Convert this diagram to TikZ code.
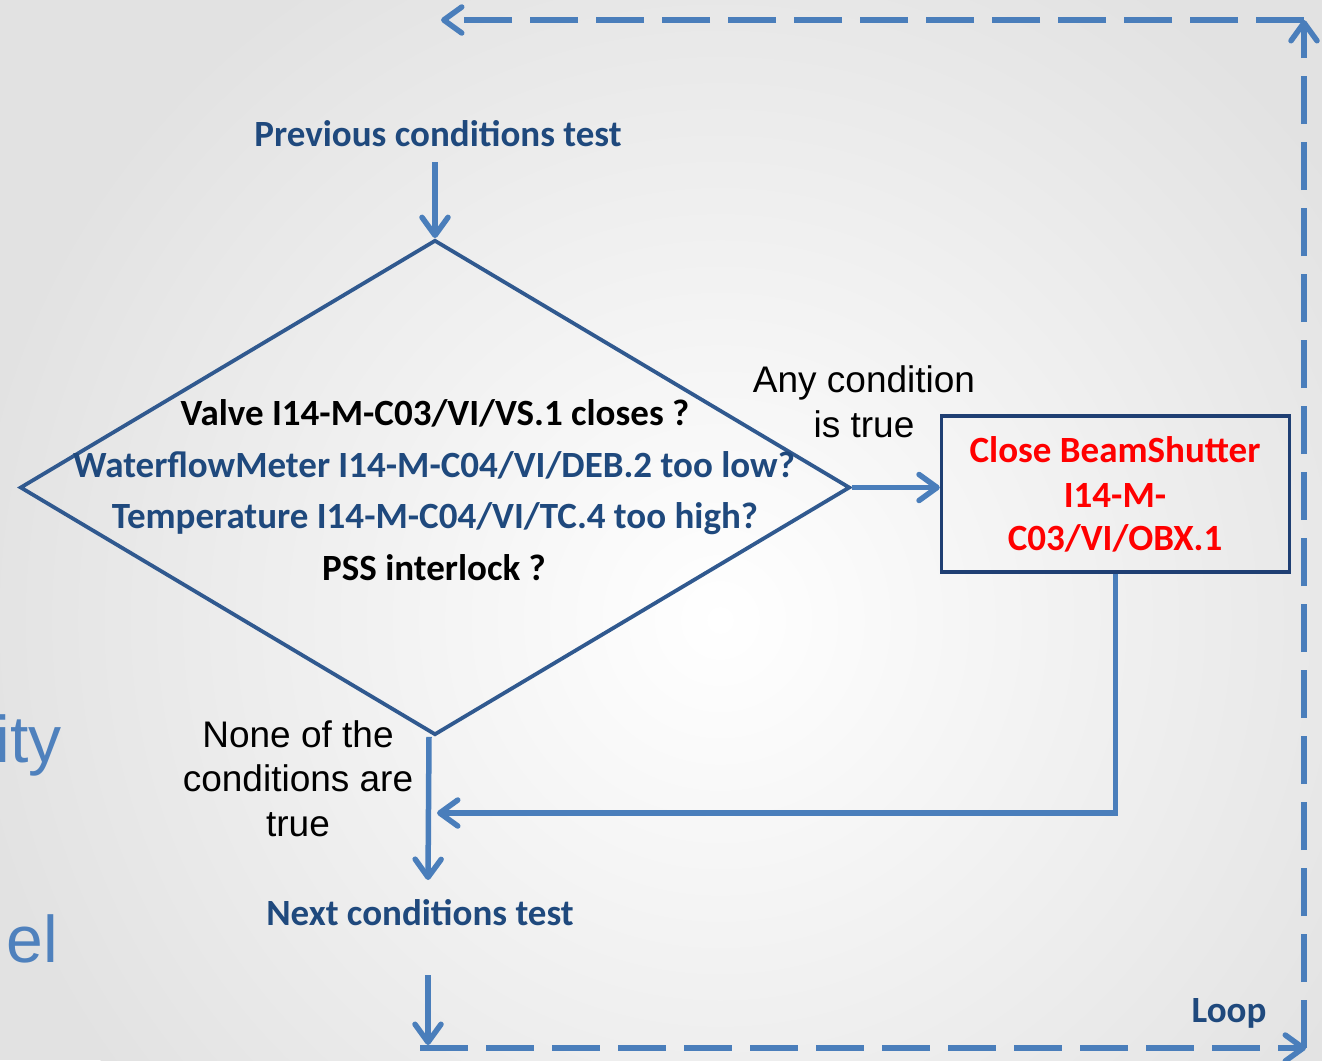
\documentclass[tikz,border=0pt]{standalone}
\usepackage{fontspec}
\setmainfont{Carlito}
\newfontfamily\arialfont{Liberation Sans}
\usetikzlibrary{arrows.meta,shapes.geometric}
\definecolor{navy}{HTML}{1F497D}
\definecolor{flowblue}{HTML}{4A7EBB}
\definecolor{diablue}{HTML}{30598F}
\definecolor{boxblue}{HTML}{1F3F73}
\definecolor{bggray}{HTML}{E2E2E2}
\definecolor{lightblue}{HTML}{4F81BD}
\begin{document}
\begin{tikzpicture}[x=1pt,y=-1pt,
  calib/.style={font=\fontsize{37}{44}\selectfont\bfseries, inner sep=0pt, anchor=base},
  arialtxt/.style={font=\arialfont\fontsize{37}{45}\selectfont, inner sep=0pt, anchor=base},
  bigfrag/.style={font=\arialfont\fontsize{66}{72}\selectfont, text=lightblue, inner sep=0pt, anchor=base east},
  barb/.tip={Straight Barb[length=18pt,width=26pt,round]},
  flow/.style={draw=flowblue, line width=5.5pt, -barb},
  loopline/.style={draw=flowblue, line width=5.5pt, dash pattern=on 48pt off 18pt, -barb},
  diabox/.style={diamond, draw=diablue, line width=3.8pt, inner sep=0pt},
  actionbox/.style={draw=boxblue, line width=3.4pt, inner sep=0pt}
]
\useasboundingbox (0,0) rectangle (1322,1060);
% background
\begin{scope}
  \clip (0,0) rectangle (1322,1060);
  \fill[bggray] (0,0) rectangle (1322,1060);
  \shade[inner color=white, outer color=bggray] (720,620) circle (760);
\end{scope}

% fragments of slide text at the left edge
\node[bigfrag] (ity) at (62,762) {ity};
\node[bigfrag] (el) at (58,962) {el};

% top label
\node[calib, text=navy] (prev) at (438,146) {Previous conditions test};

% decision diamond
\node[diabox, minimum width=830pt, minimum height=495pt] (dia) at (435,487.5) {};
\node[calib] (c1) at (435,425) {Valve I14-M-C03/VI/VS.1 closes ?};
\node[calib, text=navy] (c2) at (434,477) {WaterflowMeter I14-M-C04/VI/DEB.2 too low?};
\node[calib, text=navy] (c3) at (435,528) {Temperature I14-M-C04/VI/TC.4 too high?};
\node[calib] (c4) at (434,580) {PSS interlock ?};

% action box
\node[actionbox, minimum width=348pt, minimum height=156pt] (box) at (1115.5,494) {};
\node[calib, text=red] (b1) at (1115,462) {Close BeamShutter};
\node[calib, text=red] (b2) at (1115,507) {I14-M-};
\node[calib, text=red] (b3) at (1115,550) {C03/VI/OBX.1};

% branch labels
\node[arialtxt] (any1) at (864,392) {Any condition};
\node[arialtxt] (any2) at (864,437) {is true};
\node[arialtxt] (none1) at (298,747) {None of the};
\node[arialtxt] (none2) at (298,791) {conditions are};
\node[arialtxt] (none3) at (298,836) {true};

% bottom labels
\node[calib, text=navy] (next) at (420,925) {Next conditions test};
\node[calib, text=navy] (loop) at (1229,1022) {Loop};

% coordinates for connector ends
\coordinate (pa) at (435,162);
\coordinate (back) at (437,813);
\coordinate (ntop) at (428,880);
\coordinate (nb1) at (428,975);
\coordinate (nb2) at (428,1045);
\coordinate (lbl) at (420,1048);
\coordinate (lbr) at (1306,1048);
\coordinate (lrb) at (1304,1048);
\coordinate (lrt) at (1304,20);
\coordinate (ltr) at (1304,20);
\coordinate (ltl) at (441,20);

% connectors
\draw[flow] (pa) -- (dia.north);
\draw[flow] (dia.east) -- (dia.east -| box.west);
\draw[flow] (box.south) |- (back);
\draw[flow] ([xshift=-6pt]dia.south) -- (ntop);
\draw[flow] (nb1) -- (nb2);

% loop (dashed)
\draw[loopline] (lbl) -- (lbr);
\draw[loopline] (lrb) -- (lrt);
\draw[loopline] (ltr) -- (ltl);
\end{tikzpicture}
\end{document}
